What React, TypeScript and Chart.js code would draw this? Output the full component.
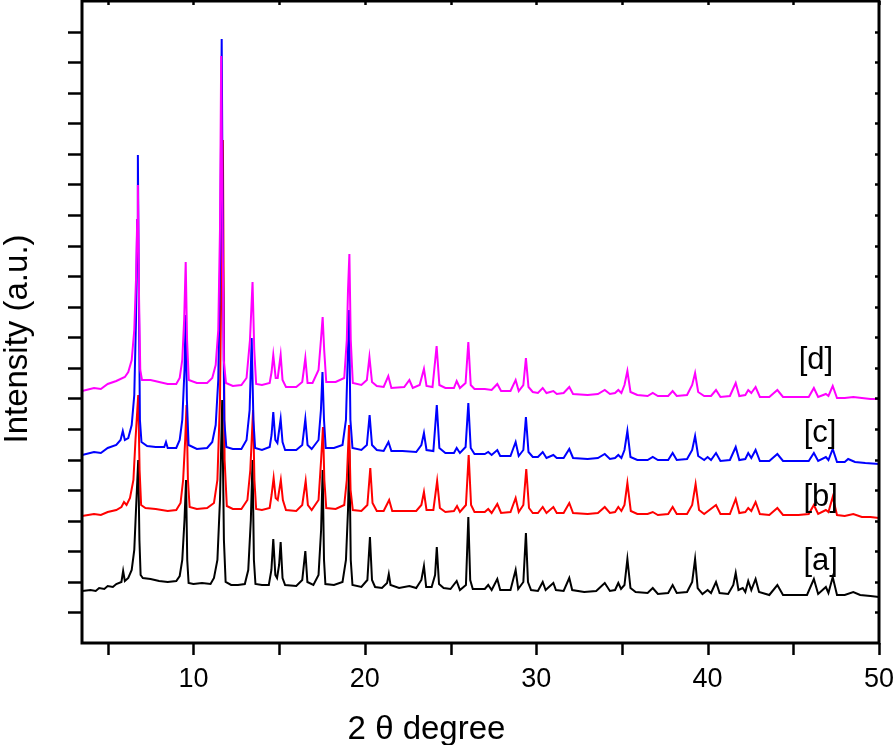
import React, { useEffect, useRef } from "react";
import { Chart, registerables } from "chart.js";

Chart.register(...registerables);

// ---- axes ----
const X_MIN = 3.5;
const X_MAX = 50;
const Y_MIN = 0;
const Y_MAX = 642;
const Y_TICK_COUNT = 21;
const xTickValues = [5, 10, 15, 20, 25, 30, 35, 40, 45, 50];
const xTickLabelValues = [10, 20, 30, 40, 50];
const xAxisTitle = "2 \u03b8 degree";
const yAxisTitle = "Intensity (a.u.)";

// ---- series: [2θ, intensity (a.u.)] ----
const seriesNames = ["[a]", "[b]", "[c]", "[d]"];
const seriesColors = ["#000000", "#ff0000", "#0000ff", "#ff00ff"];

const seriesA: [number, number][] = [
  [3.5, 52], [4.0, 53], [4.3, 52], [4.5, 55], [4.8, 54], [5.0, 57], [5.3, 56], [5.5, 59], [5.8, 61], [5.9, 72], [6.0, 62],
  [6.2, 65], [6.4, 73], [6.55, 93], [6.65, 133], [6.78, 183], [6.85, 103], [6.92, 68], [7.05, 65], [7.5, 64],
  [8.0, 62], [8.5, 61], [9.0, 62], [9.2, 67], [9.35, 83], [9.48, 123], [9.57, 163], [9.64, 83], [9.72, 60],
  [10.0, 59], [10.5, 60], [11.0, 59], [11.2, 65], [11.4, 83], [11.55, 143], [11.68, 243], [11.78, 103], [11.88, 61],
  [12.2, 58], [12.6, 58], [13.0, 59], [13.2, 73], [13.35, 123], [13.45, 183], [13.53, 83], [13.62, 59],
  [14.0, 58], [14.4, 58], [14.55, 73], [14.66, 104], [14.78, 68], [14.88, 65], [15.0, 78], [15.09, 101], [15.2, 65],
  [15.35, 58], [16.0, 57], [16.35, 63], [16.53, 92], [16.65, 61], [17.0, 58], [17.3, 68], [17.45, 113], [17.54, 173],
  [17.62, 83], [17.7, 59], [18.2, 58], [18.7, 61], [18.9, 83], [19.02, 133], [19.1, 193], [19.18, 83], [19.28, 58],
  [19.8, 56], [20.15, 63], [20.3, 106], [20.42, 63], [20.6, 56], [21.0, 55], [21.3, 60], [21.4, 69], [21.5, 58],
  [22.0, 55], [22.6, 57], [23.0, 55], [23.3, 63], [23.45, 77], [23.58, 56], [23.9, 56], [24.1, 68], [24.2, 96],
  [24.33, 59], [24.6, 55], [25.0, 54], [25.36, 62], [25.55, 53], [25.9, 58], [26.04, 126], [26.15, 63], [26.3, 54],
  [27.0, 54], [27.2, 58], [27.4, 53], [27.73, 64], [27.9, 53], [28.5, 53], [28.8, 73], [28.95, 54], [29.25, 61],
  [29.4, 110], [29.52, 61], [29.7, 53], [30.1, 52], [30.38, 61], [30.55, 53], [31.0, 60], [31.15, 53], [31.6, 52],
  [31.93, 65], [32.1, 53], [32.8, 51], [33.5, 52], [34.0, 60], [34.3, 52], [34.6, 53], [34.79, 60], [34.95, 54],
  [35.15, 58], [35.32, 84], [35.5, 55], [35.8, 51], [36.5, 50], [36.8, 55], [37.1, 49], [37.7, 50], [37.96, 58],
  [38.2, 50], [38.8, 51], [39.1, 61], [39.27, 84], [39.42, 55], [39.7, 49], [40.0, 53], [40.2, 50], [40.49, 61],
  [40.7, 50], [41.2, 49], [41.5, 58], [41.64, 70], [41.8, 53], [42.05, 55], [42.2, 51], [42.37, 62], [42.55, 53],
  [42.8, 64], [43.0, 51], [43.6, 48], [44.07, 58], [44.4, 48], [45.0, 48], [45.8, 48], [46.2, 64], [46.45, 49],
  [46.9, 56], [47.05, 50], [47.3, 66], [47.55, 48], [48.0, 48], [48.5, 51], [48.9, 48], [49.5, 47], [50.0, 46],
];

const seriesB: [number, number][] = [
  [3.5, 127], [4.2, 129], [4.6, 128], [5.0, 131], [5.5, 133], [5.8, 136], [5.95, 141], [6.1, 138], [6.3, 145],
  [6.5, 163], [6.62, 203], [6.78, 248], [6.86, 173], [6.95, 138], [7.2, 135], [7.8, 134], [8.5, 132], [9.0, 133],
  [9.25, 140], [9.4, 163], [9.52, 203], [9.6, 238], [9.68, 163], [9.78, 136], [10.2, 134], [10.8, 135], [11.2, 140],
  [11.4, 163], [11.55, 243], [11.72, 503], [11.82, 183], [11.95, 137], [12.3, 134], [12.8, 134], [13.15, 143],
  [13.32, 173], [13.48, 233], [13.56, 163], [13.66, 134], [14.0, 133], [14.45, 135], [14.56, 148], [14.68, 165],
  [14.8, 145], [14.92, 143], [15.1, 163], [15.22, 143], [15.4, 133], [16.0, 132], [16.35, 138], [16.55, 162],
  [16.68, 138], [16.9, 133], [17.3, 143], [17.45, 183], [17.56, 216], [17.64, 163], [17.75, 135], [18.3, 134],
  [18.8, 138], [18.95, 163], [19.08, 218], [19.17, 153], [19.3, 133], [19.8, 132], [20.15, 138], [20.32, 175],
  [20.45, 140], [20.7, 132], [21.1, 132], [21.42, 143], [21.6, 132], [22.2, 132], [23.0, 132], [23.3, 138],
  [23.45, 151], [23.6, 133], [24.0, 133], [24.22, 162], [24.38, 135], [24.7, 131], [25.2, 132], [25.38, 137],
  [25.55, 131], [25.9, 138], [26.06, 188], [26.2, 138], [26.4, 131], [27.0, 131], [27.2, 134], [27.4, 130],
  [27.73, 139], [27.95, 130], [28.5, 131], [28.8, 145], [28.98, 131], [29.25, 138], [29.42, 174], [29.58, 135],
  [29.8, 130], [30.1, 130], [30.38, 136], [30.6, 130], [31.0, 136], [31.2, 130], [31.6, 130], [31.93, 140],
  [32.15, 130], [33.0, 129], [33.6, 130], [34.0, 136], [34.3, 130], [34.6, 131], [34.79, 136], [34.97, 132],
  [35.15, 138], [35.32, 160], [35.52, 132], [35.9, 129], [36.5, 129], [36.8, 131], [37.1, 128], [37.7, 129],
  [37.96, 136], [38.2, 129], [38.8, 129], [39.1, 138], [39.3, 159], [39.5, 133], [39.8, 129], [40.49, 138],
  [40.75, 129], [41.3, 129], [41.64, 144], [41.85, 130], [42.2, 131], [42.37, 135], [42.55, 132], [42.8, 141],
  [43.05, 129], [43.6, 128], [44.07, 135], [44.4, 128], [45.3, 128], [45.9, 129], [46.2, 138], [46.45, 129],
  [46.9, 133], [47.05, 131], [47.3, 146], [47.55, 128], [48.0, 127], [48.5, 129], [49.0, 126], [49.5, 126], [50.0, 125],
];

const seriesC: [number, number][] = [
  [3.5, 188], [4.2, 191], [4.6, 190], [5.0, 195], [5.5, 198], [5.75, 203], [5.88, 212], [6.0, 203], [6.2, 205],
  [6.4, 218], [6.55, 248], [6.65, 323], [6.72, 423], [6.76, 488], [6.82, 343], [6.88, 223], [6.97, 201], [7.3, 197],
  [7.8, 196], [8.3, 196], [8.4, 201], [8.5, 195], [9.0, 195], [9.2, 203], [9.35, 223], [9.48, 273], [9.55, 328],
  [9.62, 243], [9.72, 198], [10.2, 194], [10.8, 195], [11.1, 201], [11.3, 218], [11.45, 263], [11.57, 393],
  [11.65, 604], [11.72, 393], [11.8, 223], [11.92, 196], [12.3, 194], [12.8, 194], [13.1, 203], [13.28, 233],
  [13.4, 305], [13.5, 223], [13.6, 195], [14.0, 193], [14.45, 196], [14.56, 208], [14.66, 231], [14.78, 203],
  [14.9, 200], [15.09, 224], [15.2, 201], [15.35, 193], [16.0, 193], [16.35, 198], [16.53, 224], [16.66, 198],
  [16.9, 194], [17.3, 203], [17.44, 233], [17.53, 271], [17.62, 223], [17.72, 195], [18.2, 195], [18.7, 198],
  [18.9, 223], [19.0, 283], [19.08, 333], [19.16, 223], [19.28, 195], [19.8, 193], [20.12, 198], [20.28, 228],
  [20.42, 198], [20.7, 193], [21.1, 192], [21.38, 201], [21.55, 192], [22.2, 192], [23.0, 191], [23.3, 198],
  [23.45, 210], [23.6, 193], [24.0, 192], [24.2, 238], [24.35, 195], [24.7, 190], [25.2, 190], [25.36, 195],
  [25.55, 190], [25.88, 196], [26.04, 240], [26.18, 195], [26.4, 189], [27.0, 189], [27.2, 191], [27.4, 188],
  [27.73, 193], [27.9, 187], [28.5, 187], [28.8, 201], [28.98, 187], [29.25, 193], [29.4, 226], [29.55, 191],
  [29.8, 186], [30.1, 186], [30.38, 191], [30.6, 185], [31.0, 188], [31.2, 185], [31.6, 185], [31.93, 194],
  [32.15, 185], [33.0, 184], [33.6, 185], [34.0, 189], [34.3, 184], [34.6, 185], [34.79, 188], [34.97, 185],
  [35.15, 193], [35.32, 212], [35.5, 186], [35.9, 183], [36.5, 183], [36.8, 186], [37.1, 183], [37.7, 183],
  [37.96, 190], [38.2, 183], [38.8, 184], [39.1, 193], [39.27, 207], [39.45, 187], [39.8, 183], [40.0, 186],
  [40.2, 183], [40.49, 190], [40.75, 182], [41.3, 183], [41.64, 196], [41.85, 183], [42.2, 184], [42.37, 190],
  [42.55, 185], [42.8, 193], [43.05, 182], [43.6, 182], [44.07, 189], [44.4, 182], [45.3, 182], [45.9, 182],
  [46.2, 190], [46.45, 182], [46.9, 186], [47.05, 183], [47.3, 194], [47.55, 181], [48.0, 181], [48.2, 184],
  [48.6, 181], [49.2, 180], [50.0, 179],
];

const seriesD: [number, number][] = [
  [3.5, 252], [4.2, 255], [4.6, 254], [5.0, 259], [5.5, 262], [6.0, 266], [6.2, 271], [6.4, 283], [6.55, 313],
  [6.65, 363], [6.72, 423], [6.76, 458], [6.83, 343], [6.9, 273], [7.0, 263], [7.5, 263], [8.0, 261], [8.5, 259],
  [9.0, 259], [9.2, 265], [9.35, 283], [9.46, 323], [9.55, 381], [9.63, 303], [9.73, 263], [10.2, 260], [10.8, 260],
  [11.1, 265], [11.3, 278], [11.45, 313], [11.55, 413], [11.62, 587], [11.68, 443], [11.77, 283], [11.9, 260],
  [12.3, 257], [12.8, 258], [13.1, 265], [13.3, 303], [13.45, 361], [13.55, 293], [13.66, 259], [14.0, 258],
  [14.45, 260], [14.56, 271], [14.66, 288], [14.8, 265], [14.92, 265], [15.09, 288], [15.2, 263], [15.4, 256],
  [16.0, 256], [16.35, 261], [16.53, 285], [16.66, 260], [16.95, 260], [17.3, 273], [17.44, 303], [17.54, 326],
  [17.63, 293], [17.75, 261], [18.3, 261], [18.8, 265], [18.95, 303], [19.02, 353], [19.1, 389], [19.18, 303],
  [19.3, 260], [19.8, 258], [20.12, 263], [20.27, 286], [20.42, 261], [20.7, 257], [21.1, 256], [21.37, 267],
  [21.55, 255], [22.3, 256], [22.6, 263], [22.8, 255], [23.2, 258], [23.45, 274], [23.6, 257], [23.95, 256],
  [24.19, 297], [24.35, 258], [24.7, 255], [25.2, 255], [25.36, 262], [25.55, 255], [25.88, 260], [26.04, 301],
  [26.18, 258], [26.4, 254], [27.0, 254], [27.4, 253], [27.73, 259], [27.95, 252], [28.5, 252], [28.8, 263],
  [28.98, 252], [29.25, 258], [29.4, 285], [29.55, 256], [29.8, 251], [30.1, 250], [30.38, 255], [30.6, 250],
  [31.0, 252], [31.2, 249], [31.6, 250], [31.93, 256], [32.15, 249], [33.0, 248], [33.6, 249], [34.0, 253],
  [34.3, 249], [34.6, 250], [34.79, 253], [34.97, 250], [35.15, 258], [35.32, 272], [35.5, 251], [35.9, 248],
  [36.5, 247], [36.8, 250], [37.1, 247], [37.7, 247], [37.96, 252], [38.2, 247], [38.8, 248], [39.1, 258],
  [39.27, 270], [39.45, 251], [39.8, 247], [40.2, 247], [40.49, 253], [40.75, 246], [41.3, 247], [41.64, 260],
  [41.85, 247], [42.2, 248], [42.37, 253], [42.55, 250], [42.8, 256], [43.05, 246], [43.6, 246], [44.07, 253],
  [44.4, 246], [45.3, 246], [45.9, 246], [46.2, 255], [46.45, 246], [46.9, 249], [47.05, 247], [47.3, 257],
  [47.55, 245], [48.0, 245], [48.5, 246], [49.0, 245], [49.5, 244], [50.0, 244],
];

const allSeries = [seriesA, seriesB, seriesC, seriesD];

const FONT = '"Liberation Sans", Arial, Helvetica, sans-serif';

const framePlugin = {
  id: "xrdFrame",
  afterDraw(chart: any) {
    const { ctx, chartArea: ca, scales } = chart;
    const xs = scales.x;
    const ys = scales.y;
    ctx.save();
    ctx.strokeStyle = "#000";
    ctx.lineCap = "butt";
    // ticks
    ctx.lineWidth = 2.5;
    for (const v of xTickValues) {
      const px = Math.round(xs.getPixelForValue(v)) + 0.5;
      ctx.beginPath();
      ctx.moveTo(px, ca.bottom);
      ctx.lineTo(px, ca.bottom + 12);
      ctx.stroke();
      ctx.beginPath();
      ctx.moveTo(px, ca.top);
      ctx.lineTo(px, ca.top + 4);
      ctx.stroke();
    }
    for (let k = 1; k < Y_TICK_COUNT; k++) {
      const py = Math.round(ys.getPixelForValue((k * (Y_MAX - Y_MIN)) / Y_TICK_COUNT)) + 0.5;
      ctx.beginPath();
      ctx.moveTo(ca.left - 14, py);
      ctx.lineTo(ca.left, py);
      ctx.stroke();
      ctx.beginPath();
      ctx.moveTo(ca.right - 4, py);
      ctx.lineTo(ca.right, py);
      ctx.stroke();
    }
    // frame
    ctx.lineWidth = 3;
    ctx.strokeRect(ca.left, ca.top, ca.right - ca.left, ca.bottom - ca.top);

    // tick labels
    ctx.fillStyle = "#000";
    ctx.font = `27px ${FONT}`;
    ctx.textAlign = "center";
    ctx.textBaseline = "alphabetic";
    for (const v of xTickLabelValues) {
      const px = xs.getPixelForValue(v);
      ctx.fillText(String(v), px, ca.bottom + 44);
    }
    // x title
    ctx.font = `33px ${FONT}`;
    ctx.fillText(xAxisTitle, xs.getPixelForValue(23.6), ca.bottom + 96);
    // y title
    ctx.save();
    ctx.translate(27, ys.getPixelForValue(304));
    ctx.rotate(-Math.PI / 2);
    ctx.font = `33px ${FONT}`;
    ctx.textAlign = "center";
    ctx.fillText(yAxisTitle, 0, 0);
    ctx.restore();

    // series labels
    const labelAnchors: [number, number][] = [
      [46.6, 82],
      [46.6, 146],
      [46.56, 210],
      [46.32, 283],
    ];
    ctx.font = `31px ${FONT}`;
    ctx.textBaseline = "middle";
    seriesNames.forEach((name, i) => {
      const [lx, ly] = labelAnchors[i];
      ctx.fillText(name, xs.getPixelForValue(lx), ys.getPixelForValue(ly));
    });
    ctx.restore();
  },
};

export default function App() {
  const canvasRef = useRef<HTMLCanvasElement | null>(null);

  useEffect(() => {
    const canvas = canvasRef.current;
    if (!canvas) return;
    const chart = new Chart(canvas, {
      type: "line",
      data: {
        datasets: allSeries.map((s, i) => ({
          label: seriesNames[i],
          data: s.map(([x, y]) => ({ x, y })),
          borderColor: seriesColors[i],
          backgroundColor: seriesColors[i],
          borderWidth: 2,
          pointRadius: 0,
          tension: 0,
          fill: false,
          order: 4 - i,
        })),
      },
      options: {
        responsive: false,
        animation: false,
        devicePixelRatio: 1,
        layout: { padding: { top: 1, right: 15, left: 0, bottom: 0 } },
        plugins: {
          legend: { display: false },
          tooltip: { enabled: false },
          title: { display: false },
        },
        scales: {
          x: {
            type: "linear",
            min: X_MIN,
            max: X_MAX,
            position: "bottom",
            grid: { display: false },
            border: { display: false },
            ticks: { display: false },
            afterFit: (scale: any) => {
              scale.height = 102;
            },
          },
          y: {
            type: "linear",
            min: Y_MIN,
            max: Y_MAX,
            position: "left",
            grid: { display: false },
            border: { display: false },
            ticks: { display: false },
            afterFit: (scale: any) => {
              scale.width = 82;
            },
          },
        },
      },
      plugins: [framePlugin],
    });
    return () => chart.destroy();
  }, []);

  return (
    <div style={{ position: "absolute", left: 0, top: 0, width: 894, height: 745, background: "#fff" }}>
      <canvas ref={canvasRef} width={894} height={745} style={{ display: "block" }} />
    </div>
  );
}
